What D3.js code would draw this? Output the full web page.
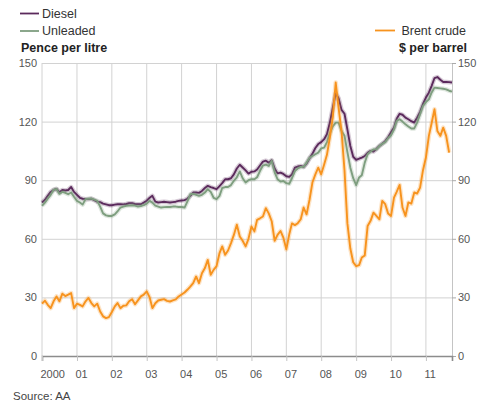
<!DOCTYPE html>
<html>
<head>
<meta charset="utf-8">
<script src="https://cdn.jsdelivr.net/npm/d3@7"></script>
<style>
  body { margin: 0; background: #fff; }
  svg { display: block; font-family: "Liberation Sans", Arial, sans-serif; }
</style>
</head>
<body>
<svg></svg>
<script>
const w = 477;
const h = 403;
const plotLeft = 42, plotRight = 452, plotTop = 63, plotBottom = 356;

// monthly series, Jan 2000 onwards
const diesel = [78.5, 80, 82, 84, 85, 85.5, 83.8, 85, 84.7, 85, 86.5, 84,
	82.5, 81, 80.5, 80.3, 80.3, 80.5, 79.8, 79, 78.8, 78, 77.6, 77.2,
	77.2, 77.5, 77.7, 77.7, 77.6, 77.8, 78.2, 78.2, 77.8, 77.7, 77.7, 78.5,
	79.5, 81, 82, 79, 78.6, 78.8, 79, 78.8, 78.6, 78.8, 79, 79.4,
	79.6, 79.8, 80.5, 82, 83.7, 83.7, 83.5, 84.5, 86, 87.1, 86.5, 86,
	85.4, 87, 88.5, 90.5, 90.5, 91, 93, 96, 97.9, 96.5, 95, 93.4,
	94.3, 94.5, 95.5, 97.5, 99.5, 100, 99, 100.2, 96, 93.5, 93.9, 93.2,
	92, 91.7, 93, 96.4, 97, 97.3, 96.8, 98.5, 101.2, 103.5, 106.5, 108.5,
	109.5, 111, 113.5, 119.5, 127, 134.5, 132, 126, 124, 116, 107.5, 102,
	100.4, 101, 101.6, 102.4, 104, 105, 104.7, 106, 107.5, 108.7, 110, 112,
	114.5, 117, 121.5, 124, 123.5, 122, 121.2, 120.2, 119.5, 122, 125, 129,
	132.3, 134.8, 138.2, 142.3, 142.8, 141.4, 140.3, 140.3, 140.2, 140];

const unleaded = [76.9, 78.5, 80.5, 82.5, 85, 85.5, 83, 84, 83.5, 82.8, 83.7, 81.5,
	79.4, 78.6, 77.5, 80.3, 80.5, 80.6, 80, 79.4, 76.5, 73, 72, 71.7,
	71.7, 72.5, 74, 76, 76.5, 76.9, 77, 77.2, 77, 76.5, 76.8, 77.2,
	78, 79.4, 78.5, 77, 76.5, 76, 76.2, 76.3, 76.3, 76.5, 76.5, 76.3,
	76.3, 76, 79, 82.8, 83, 82.5, 82, 82.5, 83.7, 85.4, 84, 81,
	80.3, 82, 86, 86.5, 86.5, 87.5, 89.7, 91.5, 94.5, 91, 88.8, 90,
	90.5, 90.5, 91.5, 94.8, 97.5, 98, 97.3, 99.9, 94, 90.5, 89.3, 89.6,
	88.5, 88.2, 91, 94.7, 96, 96.8, 96.8, 99, 101.5, 102.4, 103.3, 104.1,
	106.3, 106.7, 109.5, 114, 117.5, 119.5, 119.5, 115.2, 112.7, 104.5, 96.4, 91,
	87.5, 91.4, 92.5, 99, 103.3, 104.7, 105.8, 105.8, 107.5, 108.6, 109.5, 111.5,
	113, 116, 120.3, 121.2, 120, 118.6, 117.5, 116.5, 116.5, 119.5, 123.8, 128,
	130, 131.4, 134.8, 137.4, 137.2, 137, 136.8, 136.5, 135.8, 135.3];

const brent = [26.8, 28.3, 26.2, 24.5, 28, 30.5, 28, 31.9, 30.7, 31.4, 32.2, 24.5,
	26.8, 26.2, 25.4, 28, 29.7, 27.1, 25.4, 26.8, 22.8, 20.3, 19.4, 19.9,
	22.5, 25.4, 27.1, 24.5, 25.7, 25.9, 28, 29.1, 26.5, 28.5, 30.5, 31.4,
	33.1, 30, 24.5, 27, 28.4, 28.8, 29.1, 28.2, 27.9, 28.5, 29, 30.5,
	31.5, 32.5, 33.9, 35.5, 37.3, 40.7, 37.3, 42.4, 45, 49.2, 41.6, 44.1,
	46, 52.7, 56.1, 51.8, 54, 57.8, 62, 67.2, 61.2, 59, 56.1, 60,
	66.3, 63.8, 69.7, 70.5, 71.4, 75.7, 73, 69, 59, 62, 64, 60.6,
	54.6, 62.3, 67.9, 67, 68, 70, 76, 72.5, 80, 88.8, 93, 96.4,
	93, 98, 103, 112, 122, 140, 127, 115, 95, 68, 55, 48,
	46, 46.5, 50.4, 51.5, 66.6, 69.2, 73.4, 71.7, 70, 79.4, 77.7, 73,
	71.7, 81.1, 84, 87.6, 76, 71.7, 78.6, 78, 83.7, 83.2, 86.2, 95,
	101.6, 112.7, 119, 126.3, 115.2, 112.7, 116.9, 112.7, 104.1];

const yearLabels = ['2000', '01', '02', '03', '04', '05', '06', '07', '08', '09', '10', '11'];
const yTicks = [0, 30, 60, 90, 120, 150];

const start = new Date(2000, 0, 1);
const monthDate = (i) => d3.timeMonth.offset(start, i);

let canvas = d3.select('svg').attr('width', w).attr('height', h);

const xScale = d3.scaleTime()
	.domain([start, monthDate(diesel.length - 1)])
	.range([plotLeft, plotRight]);
const yLeft = d3.scaleLinear().domain([0, 150]).range([plotBottom, plotTop]);
const yRight = d3.scaleLinear().domain([0, 150]).range([plotBottom, plotTop]);

const yearDates = yearLabels.map((d, i) => new Date(2000 + i, 0, 1));

// horizontal grid + left axis labels
const yAxisL = d3.axisLeft(yLeft).tickValues(yTicks).tickSize(-(plotRight - plotLeft)).tickPadding(5);
const gL = canvas.append('g').attr('transform', `translate(${plotLeft},0)`).call(yAxisL);
gL.select('.domain').remove();
gL.selectAll('line').attr('stroke', '#d2d2d2');
gL.selectAll('text').attr('fill', '#555').attr('font-size', '11px')
	.attr('font-family', '"Liberation Sans", Arial, sans-serif');

// right axis
const yAxisR = d3.axisRight(yRight).tickValues(yTicks).tickSize(4).tickPadding(2);
const gR = canvas.append('g').attr('transform', `translate(${plotRight},0)`).call(yAxisR);
gR.select('.domain').attr('stroke', '#c4c4c4');
gR.selectAll('line').attr('stroke', '#aaa');
gR.selectAll('text').attr('fill', '#555').attr('font-size', '11px')
	.attr('font-family', '"Liberation Sans", Arial, sans-serif');

// vertical grid at each year
canvas.append('g')
	.selectAll('line')
	.data(yearDates)
	.enter()
	.append('line')
	.attr('x1', (d) => xScale(d))
	.attr('x2', (d) => xScale(d))
	.attr('y1', plotTop)
	.attr('y2', plotBottom)
	.attr('stroke', '#d2d2d2');

// x axis
const xAxis = d3.axisBottom(xScale)
	.tickValues(yearDates)
	.tickSize(5)
	.tickFormat((d, i) => yearLabels[i]);
const gX = canvas.append('g').attr('transform', `translate(0,${plotBottom})`).call(xAxis);
gX.select('.domain').attr('stroke', '#8c8c8c').attr('stroke-width', 1.6);
gX.selectAll('line').attr('stroke', '#c4c4c4');
gX.selectAll('text')
	.attr('fill', '#555')
	.attr('font-size', '11px')
	.attr('font-family', '"Liberation Sans", Arial, sans-serif')
	.attr('text-anchor', 'start')
	.attr('x', -2)
	.attr('dy', '1.25em');

// lines
const drawLine = (data, scale, colour) => {
	const line = d3.line()
		.x((d, i) => xScale(monthDate(i)))
		.y((d) => scale(d));
	canvas.append('path').datum(data).attr('d', line)
		.attr('fill', 'none').attr('stroke', colour).attr('stroke-opacity', 0.25)
		.attr('stroke-width', 4.5).attr('stroke-linejoin', 'round');
	canvas.append('path').datum(data).attr('d', line)
		.attr('fill', 'none').attr('stroke', colour)
		.attr('stroke-width', 1.9).attr('stroke-linejoin', 'round');
};

drawLine(diesel, yLeft, '#5b2a5c');
drawLine(unleaded, yLeft, '#7e9e7f');
drawLine(brent, yRight, '#f7931e');

// legend
const legend = [
	{ label: 'Diesel', colour: '#5b2a5c', x: 20, y: 13.5 },
	{ label: 'Unleaded', colour: '#7e9e7f', x: 20, y: 31 }
];
legend.forEach((l) => {
	canvas.append('line').attr('x1', l.x).attr('x2', l.x + 19).attr('y1', l.y).attr('y2', l.y)
		.attr('stroke', l.colour).attr('stroke-width', 1.8);
	canvas.append('text').attr('x', l.x + 22).attr('y', l.y + 4.3)
		.attr('font-size', '12.5px').attr('fill', '#333').text(l.label);
});
canvas.append('line').attr('x1', 375).attr('x2', 395).attr('y1', 30.5).attr('y2', 30.5)
	.attr('stroke', '#f7931e').attr('stroke-width', 1.8);
canvas.append('text').attr('x', 466).attr('y', 34.8).attr('text-anchor', 'end')
	.attr('font-size', '12.5px').attr('fill', '#333').text('Brent crude');

canvas.append('text').attr('x', 21).attr('y', 51.5)
	.attr('font-size', '12.5px').attr('font-weight', 'bold').attr('fill', '#222')
	.text('Pence per litre');
canvas.append('text').attr('x', 467).attr('y', 51.5).attr('text-anchor', 'end')
	.attr('font-size', '12.5px').attr('font-weight', 'bold').attr('fill', '#222')
	.text('$ per barrel');

canvas.append('text').attr('x', 13).attr('y', 400)
	.attr('font-size', '11.5px').attr('fill', '#444').text('Source: AA');
</script>
</body>
</html>
